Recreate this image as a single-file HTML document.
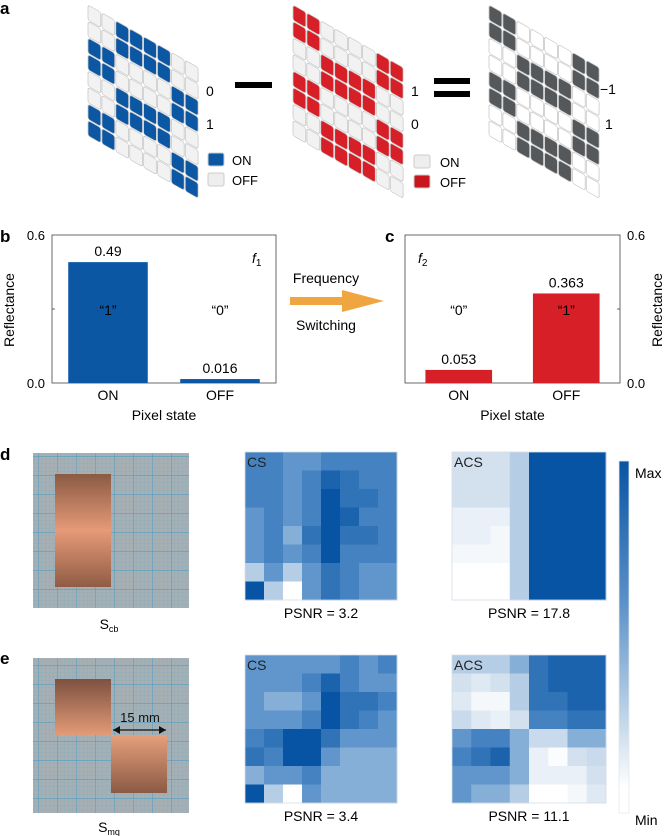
<!DOCTYPE html>
<html><head><meta charset="utf-8"><style>
body{margin:0;background:#fff;}
svg{display:block;font-family:"Liberation Sans",Arial,sans-serif;}
</style></head><body>
<svg id="fig" width="667" height="836" viewBox="0 0 667 836" xmlns="http://www.w3.org/2000/svg">
<defs>
<linearGradient id="cbar" x1="0" y1="0" x2="0" y2="1">
<stop offset="0" stop-color="#0854a4"/><stop offset="0.4" stop-color="#5b90c8"/><stop offset="0.75" stop-color="#c6d9ea"/><stop offset="0.93" stop-color="#ffffff"/><stop offset="1" stop-color="#ffffff"/>
</linearGradient>
<linearGradient id="cu1" x1="0" y1="0" x2="0" y2="1"><stop offset="0" stop-color="#8a5a44"/><stop offset="0.5" stop-color="#e69a78"/><stop offset="1" stop-color="#8f5c44"/></linearGradient>
<linearGradient id="cu2" x1="0" y1="0" x2="0" y2="1"><stop offset="0" stop-color="#7d5140"/><stop offset="1" stop-color="#e39a77"/></linearGradient>
<linearGradient id="cu3" x1="0" y1="0" x2="0" y2="1"><stop offset="0" stop-color="#e6a07c"/><stop offset="1" stop-color="#8a5a44"/></linearGradient>
<pattern id="gridp" width="19" height="19" patternUnits="userSpaceOnUse">
<rect width="19" height="19" fill="#a6b0b4"/>
<path d="M3.8 0V19M7.6 0V19M11.4 0V19M15.2 0V19M0 3.8H19M0 7.6H19M0 11.4H19M0 15.2H19" stroke="#93adb9" stroke-width="0.5"/>
<path d="M0 0V19M0 0H19" stroke="#3a9ac4" stroke-width="0.9"/>
</pattern>
</defs>

<text x="0" y="14" font-weight="bold" font-size="17">a</text>
<g id="gridA"></g>
<g id="gridB"></g>
<g id="gridC"></g>
<text x="206" y="96" font-size="14">0</text>
<text x="206" y="129" font-size="14">1</text>
<rect x="235" y="82" width="37" height="6" fill="#000"/>
<text x="411" y="96" font-size="14">1</text>
<text x="411" y="129" font-size="14">0</text>
<rect x="434" y="78" width="36" height="6" fill="#000"/>
<rect x="434" y="91" width="36" height="6" fill="#000"/>
<text x="600" y="94" font-size="14">−1</text>
<text x="605" y="129" font-size="14">1</text>
<rect x="208" y="153" width="16" height="13" rx="2" fill="#0b57a4" stroke="#ccc"/>
<text x="232" y="165" font-size="13">ON</text>
<rect x="208" y="173" width="16" height="13" rx="2" fill="#eeeeee" stroke="#ccc"/>
<text x="232" y="185" font-size="13">OFF</text>
<rect x="414" y="155" width="16" height="13" rx="2" fill="#eeeeee" stroke="#ccc"/>
<text x="440" y="167" font-size="13">ON</text>
<rect x="414" y="175" width="16" height="13" rx="2" fill="#c8161e" stroke="#ccc"/>
<text x="440" y="187" font-size="13">OFF</text>

<text x="0" y="242" font-weight="bold" font-size="17">b</text>
<text x="385" y="242" font-weight="bold" font-size="17">c</text>
<g id="chartB"></g>
<g id="chartC"></g>
<text x="326" y="283" font-size="14" text-anchor="middle">Frequency</text>
<path d="M290 297H342V290L384 301L342 312V305H290Z" fill="#f0a640"/>
<text x="326" y="330" font-size="14" text-anchor="middle">Switching</text>

<text x="0" y="460" font-weight="bold" font-size="17">d</text>
<text x="0" y="664" font-weight="bold" font-size="17">e</text>
<g>
<rect x="33" y="453" width="156" height="155" fill="url(#gridp)"/>
<rect x="55" y="474" width="56" height="113" fill="url(#cu1)"/>
</g>
<text x="109" y="629" font-size="14" text-anchor="middle">S<tspan font-size="9" dy="3">cb</tspan></text>
<g>
<rect x="33" y="658" width="156" height="155" fill="url(#gridp)"/>
<rect x="55" y="679" width="56" height="56" fill="url(#cu2)"/>
<rect x="111" y="735" width="56" height="58" fill="url(#cu3)"/>
<path d="M113 730H166" stroke="#111" stroke-width="1.3"/>
<path d="M113 730l7-4v8z M166 730l-7-4v8z" fill="#111"/>
<text x="140" y="722" font-size="13" text-anchor="middle" fill="#111">15 mm</text>
</g>
<text x="109" y="832" font-size="14" text-anchor="middle">S<tspan font-size="9" dy="3">mq</tspan></text>

<g id="hm1"></g>
<g id="hm2"></g>
<g id="hm3"></g>
<g id="hm4"></g>
<text x="321" y="618" font-size="14" text-anchor="middle">PSNR = 3.2</text>
<text x="529" y="618" font-size="14" text-anchor="middle">PSNR = 17.8</text>
<text x="321" y="821" font-size="14" text-anchor="middle">PSNR = 3.4</text>
<text x="529" y="821" font-size="14" text-anchor="middle">PSNR = 11.1</text>
<rect x="619" y="461" width="10" height="352" fill="url(#cbar)" stroke="#e4e8ee" stroke-width="0.8"/>
<text x="635" y="478" font-size="14">Max</text>
<text x="635" y="825" font-size="14">Min</text>
</svg>
<script>
const NS="http://www.w3.org/2000/svg";
const onPattern=["00110011","00110011","11001100","11001100","11001100","11001100","00110011","00110011"];
const barCategories=["ON","OFF"];
const f1Values=[0.49,0.016];
const f1Labels=["0.49","0.016"];
const f2Values=[0.053,0.363];
const f2Labels=["0.053","0.363"];
const yTicks=[0.0,0.6];
const yTickLabels=["0.0","0.6"];
const csD=[[6,6,5,5,6,6,6,6],[6,6,5,6,8,7,6,6],[6,6,5,6,9,7,7,6],[5,6,5,6,9,8,6,6],[5,6,4,7,9,7,7,6],[5,6,5,6,9,6,6,6],[3,5,3,5,7,6,5,5],[9,3,0,5,7,6,5,5]];
const acsD=[[2,2,2,3,9,9,9,9],[2,2,2,3,9,9,9,9],[2,2,2,3,9,9,9,9],[1,1,1,3,9,9,9,9],[1,1,0.5,3,9,9,9,9],[0.5,0.5,0.5,3,9,9,9,9],[0,0,0,3,9,9,9,9],[0,0,0,3,9,9,9,9]];
const csE=[[5,5,5,5,5,6,5,6],[5,5,5,6,8,6,5,5],[5,4,4,5,9,7,7,6],[5,5,5,6,9,7,6,5],[6,7,9,9,7,5,5,5],[7,6,9,9,5,4,4,4],[4,5,5,6,4,4,4,4],[9,3,0,5,4,4,4,4]];
const acsE=[[3,3,3,4,7,8,8,8],[2,1.5,2,3,7,8,8,8],[1.5,0.5,0.5,3,7,7,8,8],[2.5,1.5,1,2,6,6,7,7],[5,6,6,4,2.5,2.5,4,4],[6,7,8,4,1,0.2,2,2.5],[5,5,5,4,1,1,1,2],[5,4,4,3,0,0,0.5,1.5]];

function mk(tag,attrs,parent){const e=document.createElementNS(NS,tag);for(const k in attrs)e.setAttribute(k,attrs[k]);parent.appendChild(e);return e;}

function drawGrid(id,x0,color,mode){
  const g=document.getElementById(id);
  const pitchX=13.9,pitchY=16.5,skew=7.9,y0=5;
  const k=skew/pitchX;
  for(let c=0;c<8;c++){for(let r=0;r<8;r++){
    const on=onPattern[c][r]==="1";
    let fill;
    if(mode==="on") fill=on?color:"#f2f2f2";
    else if(mode==="off") fill=on?"#f2f2f2":color;
    else fill=on?"#ffffff":color;
    const x=x0+c*pitchX, y=y0+r*pitchY+c*skew;
    const rc=mk("rect",{x:0,y:0,width:12.8,height:15.2,rx:2.2,fill:fill,stroke:"#c9c9c9","stroke-width":0.8,transform:`translate(${x},${y}) matrix(1,${k},0,1,0,0)`},g);
    
    
  }}
}
drawGrid("gridA",88,"#0b57a4","on");
drawGrid("gridB",293,"#d71f27","off");
drawGrid("gridC",489,"#55585b","diff");

function drawBar(id,bx,w,side,values,labels,color,fLabel,quotes,barFrac){
  const g=document.getElementById(id);
  const top=235,bottom=383;
  const yScale=v=>bottom-(v/0.6)*(bottom-top);
  const band=w/2;
  const xScale=i=>bx+i*band;
  mk("rect",{x:bx,y:top,width:w,height:bottom-top,fill:"none",stroke:"#444","stroke-width":0.8},g);
  const ax=side==="left"?bx:bx+w;
  yTicks.forEach((t,i)=>{
    const tx=mk("text",{x:side==="left"?ax-7:ax+7,y:yScale(t)+5,"font-size":13,"text-anchor":side==="left"?"end":"start"},g);
    tx.textContent=yTickLabels[i];
    
    
  });
  mk("line",{x1:ax,x2:side==="left"?ax+3:ax-3,y1:yScale(0.3),y2:yScale(0.3),stroke:"#444","stroke-width":0.8},g);
  const yt=mk("text",{x:0,y:0,"font-size":14,"text-anchor":"middle",transform:side==="left"?"translate(14,310) rotate(-90)":"translate(662,310) rotate(-90)"},g);
  yt.textContent="Reflectance";
  
  
  const bw=band*barFrac;
  values.forEach((v,i)=>{
    const cx=xScale(i)+band/2;
    const r=mk("rect",{x:cx-bw/2,y:yScale(v),width:bw,height:bottom-yScale(v),fill:color},g);
    
    
    const vl=mk("text",{x:cx,y:yScale(v)-6,"font-size":14,"text-anchor":"middle"},g);
    vl.textContent=labels[i];
    
    
    const xl=mk("text",{x:cx,y:400,"font-size":14,"text-anchor":"middle"},g);
    xl.textContent=barCategories[i];
    
    
    const q=mk("text",{x:cx,y:315,"font-size":14,"text-anchor":"middle"},g);
    q.textContent=quotes[i];
    
    
  });
  const xt=mk("text",{x:bx+w/2,y:420,"font-size":14,"text-anchor":"middle"},g);
  xt.textContent="Pixel state";
  
  
  const f=mk("text",{x:side==="left"?bx+w-24:bx+13,y:263,"font-size":14,"font-style":"italic"},g);
  f.textContent="f";
  
  
  const sub=mk("tspan",{"font-size":10,"font-style":"normal",dy:3},f);
  sub.textContent=fLabel;
}
drawBar("chartB",52,224,"left",f1Values,f1Labels,"#0b57a4","1",["“1”","“0”"],0.71);
drawBar("chartC",405,215,"right",f2Values,f2Labels,"#d71f27","2",["“0”","“1”"],0.62);

const stops=[[0,[255,255,255]],[0.3,[196,215,233]],[0.5,[110,160,208]],[0.68,[66,128,192]],[1,[8,84,164]]];
function cmap(v){const t=Math.max(0,Math.min(1,v/9));for(let i=1;i<stops.length;i++){if(t<=stops[i][0]){const a=stops[i-1],b=stops[i];const u=(t-a[0])/(b[0]-a[0]);return "rgb("+a[1].map((c,k)=>Math.round(c+(b[1][k]-c)*u)).join(",")+")";}}return "rgb(8,84,164)";}
function drawHeat(id,data,x0,y0,w,h,label){
  const g=document.getElementById(id);
  const cw=w/8,ch=h/8;
  data.forEach((row,r)=>row.forEach((v,c)=>{
    const rc=mk("rect",{x:x0+c*cw,y:y0+r*ch,width:cw+0.4,height:ch+0.4,fill:cmap(v)},g);
    
    
  }));
  mk("rect",{x:x0,y:y0,width:w,height:h,fill:"none",stroke:"#d5dde6","stroke-width":0.8},g);
  const t=mk("text",{x:x0+2,y:y0+15,"font-size":14,fill:"#222"},g);
  t.textContent=label;
  
  
}
drawHeat("hm1",csD,245,452,152,148,"CS");
drawHeat("hm2",acsD,452,452,154,148,"ACS");
drawHeat("hm3",csE,245,655,152,148,"CS");
drawHeat("hm4",acsE,452,655,154,148,"ACS");
</script>
</body></html>
